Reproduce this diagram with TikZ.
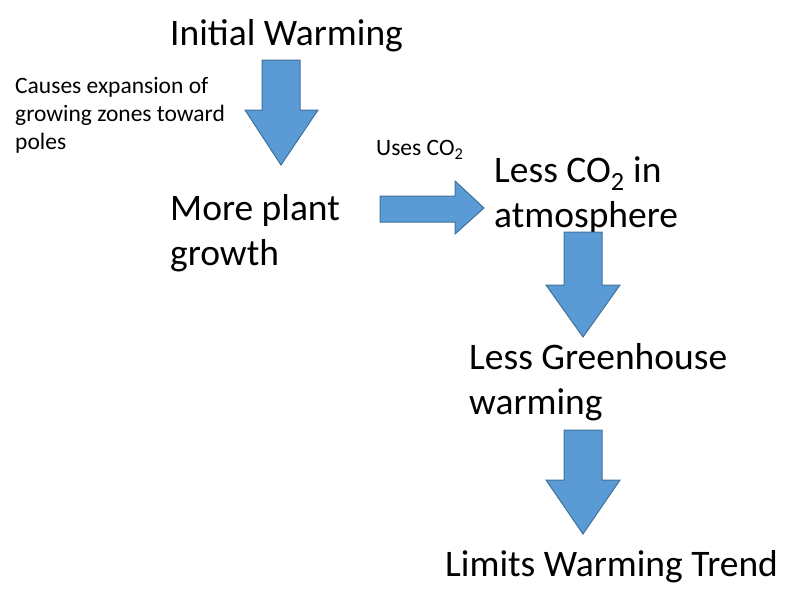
\documentclass[tikz,border=0pt]{standalone}
\usepackage{fontspec}
\setmainfont{Carlito}
\begin{document}
\begin{tikzpicture}[x=1pt,y=-1pt,
  big/.style={font=\fontsize{37.5}{45}\selectfont,align=left,inner sep=0,anchor=west},
  small/.style={font=\fontsize{23.5}{28}\selectfont,align=left,inner sep=0,anchor=west},
  blk/.style={fill={rgb,255:red,91;green,155;blue,213},draw={rgb,255:red,65;green,113;blue,156},line width=1pt}]
\useasboundingbox (0,0) rectangle (800,611);
\node[big] (t1) at (170,36) {Initial Warming};
\node[small] (c1) at (15,115) {Causes expansion of\\growing zones toward\\poles};
\node[big] (t2) at (170,233) {More plant\\growth};
\node[small] (c2) at (376,150) {Uses CO\textsubscript{2}};
\node[big] (t3) at (494,195) {Less CO\textsubscript{2} in\\atmosphere};
\node[big] (t4) at (469,382) {Less Greenhouse\\warming};
\node[big] (t5) at (445,567) {Limits Warming Trend};
\draw[blk] (262,60) -- (300,60) -- (300,110) -- (318,110) -- (281,165) -- (245,110) -- (262,110) -- cycle;
\draw[blk] (380,196) -- (455,196) -- (455,181) -- (484,208) -- (455,234) -- (455,222) -- (380,222) -- cycle;
\draw[blk] (564,232) -- (602,232) -- (602,285) -- (620,285) -- (583,337) -- (546,285) -- (564,285) -- cycle;
\draw[blk] (564,430) -- (602,430) -- (602,480) -- (620,480) -- (583,534) -- (546,480) -- (564,480) -- cycle;
\end{tikzpicture}
\end{document}
